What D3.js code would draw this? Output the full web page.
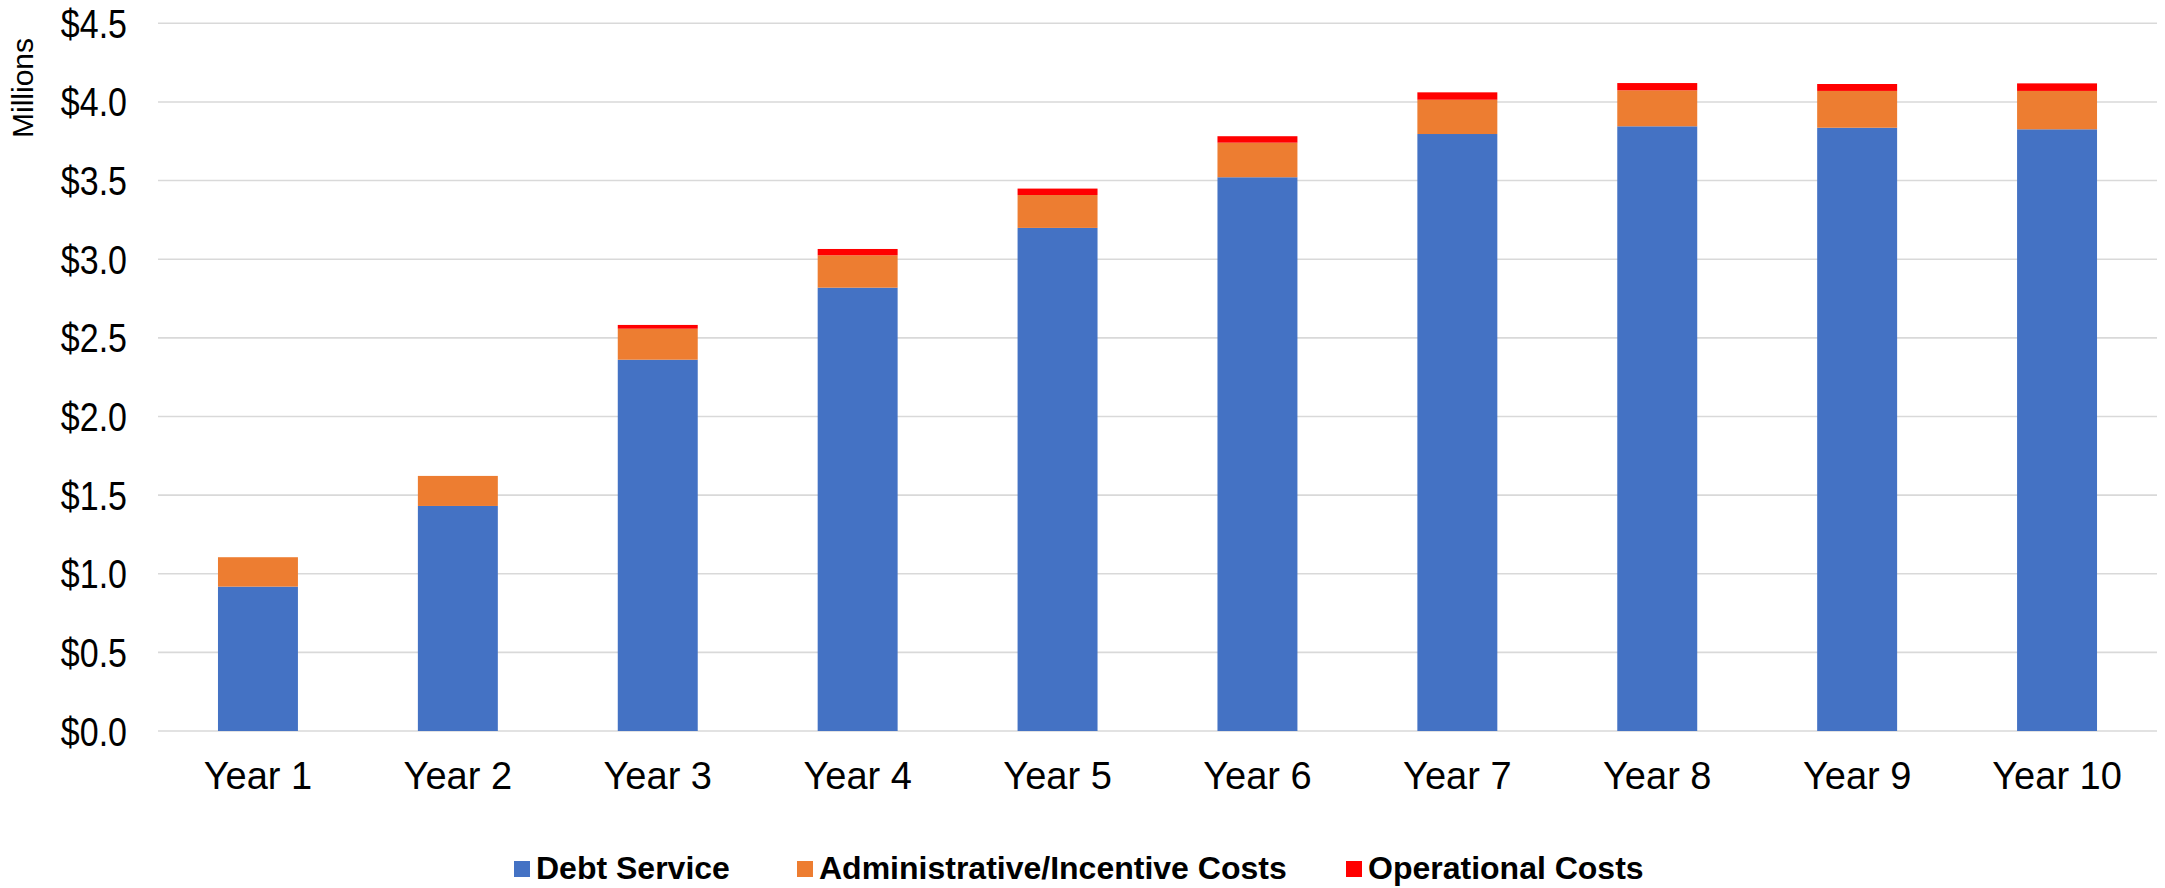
<!DOCTYPE html>
<html>
<head>
<meta charset="utf-8">
<script src="https://cdn.jsdelivr.net/npm/d3@7"></script>
<style>
  html, body { margin: 0; padding: 0; background: #fff; }
  svg { display: block; font-family: "Liberation Sans", Arial, sans-serif; }
</style>
</head>
<body>
<svg id="chart" width="2165" height="888"></svg>
<script>
const categories = ["Year 1","Year 2","Year 3","Year 4","Year 5","Year 6","Year 7","Year 8","Year 9","Year 10"];
const debtService = [0.918, 1.431, 2.361, 2.819, 3.199, 3.521, 3.796, 3.845, 3.836, 3.826];
const adminCosts  = [0.187, 0.191, 0.197, 0.206, 0.209, 0.220, 0.218, 0.229, 0.234, 0.244];
const opCosts     = [0.000, 0.000, 0.024, 0.040, 0.041, 0.041, 0.047, 0.046, 0.044, 0.048];
const seriesNames = ["Debt Service", "Administrative/Incentive Costs", "Operational Costs"];
const seriesColors = ["#4472C4", "#ED7D31", "#FF0000"];
const yTicks = [0, 0.5, 1.0, 1.5, 2.0, 2.5, 3.0, 3.5, 4.0, 4.5];

const svg = d3.select("#chart");
const plotLeft = 158, plotRight = 2157, plotTop = 23.3, plotBottom = 731;

const x = d3.scaleBand().domain(categories).range([plotLeft, plotRight]).paddingInner(0.6).paddingOuter(0.3);
const y = d3.scaleLinear().domain([0, 4.5]).range([plotBottom, plotTop]);

const keys = ["debt", "admin", "ops"];
const rows = categories.map((c, i) => ({cat: c, debt: debtService[i], admin: adminCosts[i], ops: opCosts[i]}));
const stacked = d3.stack().keys(keys)(rows);

// gridlines
svg.append("g").selectAll("line").data(yTicks).join("line")
  .attr("x1", plotLeft).attr("x2", plotRight)
  .attr("y1", d => y(d)).attr("y2", d => y(d))
  .attr("stroke", "#D9D9D9").attr("stroke-width", 1.6);

// y axis labels
const yAxis = d3.axisLeft(y).tickValues(yTicks).tickSize(0).tickPadding(0)
  .tickFormat(d => "$" + d3.format(".1f")(d));
const gy = svg.append("g").attr("transform", `translate(127,0)`).call(yAxis);
gy.select(".domain").remove();
gy.selectAll("text").attr("font-size", 34).attr("fill", "#000")
  .attr("font-family", "'Liberation Sans', Arial, sans-serif")
  .attr("dy", "0.35em").attr("transform", "scale(1,1.18)");

// Millions
svg.append("text").attr("transform", "translate(33,88) rotate(-90)")
  .attr("text-anchor", "middle").attr("font-size", 30).attr("fill", "#000")
  .text("Millions");

// bars
svg.append("g").selectAll("g").data(stacked).join("g")
  .attr("fill", (d, i) => seriesColors[i])
  .selectAll("rect").data(d => d).join("rect")
  .attr("x", d => x(d.data.cat))
  .attr("width", x.bandwidth())
  .attr("y", d => y(d[1]))
  .attr("height", d => Math.max(0, y(d[0]) - y(d[1])));

// x axis labels
const xAxis = d3.axisBottom(x).tickSize(0).tickPadding(0);
const gx = svg.append("g").attr("transform", `translate(0,776)`).call(xAxis);
gx.select(".domain").remove();
gx.selectAll("text").attr("font-size", 38).attr("fill", "#000")
  .attr("font-family", "'Liberation Sans', Arial, sans-serif").attr("dy", "0.35em");

// legend
const legendX = [514, 797, 1346];
const lg = svg.append("g");
seriesNames.forEach((name, i) => {
  lg.append("rect").attr("x", legendX[i]).attr("y", 861).attr("width", 16).attr("height", 16)
    .attr("fill", seriesColors[i]);
  lg.append("text").attr("x", legendX[i] + 22).attr("y", 868)
    .attr("dy", "0.35em")
    .attr("font-size", 32).attr("font-weight", "bold").attr("fill", "#000")
    .text(name);
});
</script>
</body>
</html>
